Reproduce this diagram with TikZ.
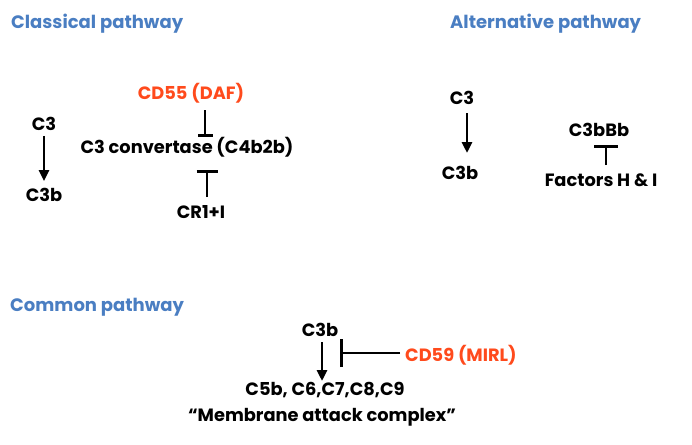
\documentclass[tikz,border=0pt]{standalone}
\usepackage{fontspec}
\setmainfont{Poppins}[BoldFont=* Bold]
\usetikzlibrary{arrows.meta}
\definecolor{ttl}{HTML}{4A7EC2}
\definecolor{hl}{HTML}{FF4A1C}
\tikzset{
  lbl/.style={inner sep=0pt, font=\fontsize{17.8}{20}\selectfont\bfseries},
  head/.style={inner sep=0pt, font=\fontsize{18}{20}\selectfont\bfseries, text=ttl},
  red/.style={lbl, text=hl},
  act/.style={line width=2.8pt, -{Triangle[length=11pt,width=10pt]}},
  inh/.style={line width=2.8pt, -{Bar[width=#1]}},
  inh/.default=18pt,
}
\begin{document}
\begin{tikzpicture}[x=1pt,y=-1pt]
\useasboundingbox (0,0) rectangle (692,444);
% titles
\node[head, anchor=west] (tc) at (11,24) {Classical pathway};
\node[head, anchor=west] (ta) at (450,24) {Alternative pathway};
\node[head, anchor=west] (tm) at (10,307) {Common pathway};
% classical
\node[lbl] (c3a) at (44,124) {C3};
\node[lbl] (c3ba) at (44,195) {C3b};
\draw[act, shorten <=5pt, shorten >=7pt] (c3a) -- (c3ba);
\node[red] (cd55) at (191,93) {CD55 (DAF)};
\node[lbl] (conv) at (187,147) {C3 convertase (C4b2b)};
\node[lbl] (cr1) at (201,212) {CR1+I};
\coordinate (cd55s) at (205,110);
\coordinate (cd55e) at (205,137);
\draw[inh=15pt] (cd55s) -- (cd55e);
\coordinate (cr1s) at (207,197);
\coordinate (cr1e) at (207,170);
\draw[inh=21pt] (cr1s) -- (cr1e);
% alternative
\node[lbl] (c3b) at (462,98) {C3};
\node[lbl] (c3bb) at (460,173) {C3b};
\coordinate (c3bs) at (467,113);
\coordinate (c3be) at (467,153);
\draw[act] (c3bs) -- (c3be);
\node[lbl] (bb) at (599,130) {C3bBb};
\node[lbl] (fhi) at (601,180) {Factors H \& I};
\coordinate (fhis) at (606,165);
\coordinate (fhie) at (606,145);
\draw[inh=24pt] (fhis) -- (fhie);
% common
\node[lbl] (c3c) at (320,330) {C3b};
\node[lbl] (mac) at (325,390) {C5b, C6,C7,C8,C9};
\node[lbl] (macn) at (322,417) {“Membrane attack complex”};
\coordinate (c3cs) at (322,342);
\coordinate (c3ce) at (322,381);
\draw[act] (c3cs) -- (c3ce);
\node[red, anchor=west] (cd59) at (405,355) {CD59 (MIRL)};
\coordinate (cd59s) at (400,353);
\coordinate (cd59e) at (340,353);
\draw[inh=28pt] (cd59s) -- (cd59e);
\end{tikzpicture}
\end{document}
